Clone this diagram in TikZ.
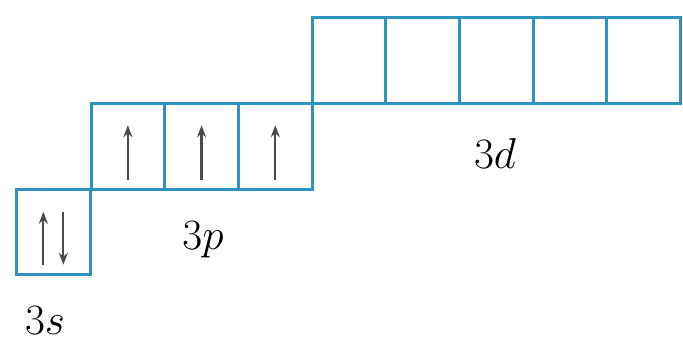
\documentclass[tikz,border=0pt]{standalone}
\usetikzlibrary{arrows.meta}
\definecolor{boxblue}{RGB}{45,148,190}
\definecolor{arrgrey}{RGB}{75,75,75}
\newcommand{\biglbl}[1]{\scalebox{1.74}{\Huge $#1$}}
\tikzset{
  cell/.style={draw=boxblue, line width=3pt, minimum width=73.7pt, minimum height=85.5pt, inner sep=0pt, anchor=north west},
  spin/.style={draw=arrgrey, line width=2.2pt, -{Stealth[length=12pt,width=9pt]}},
  lbl/.style={inner sep=0pt}
}
\begin{document}
\begin{tikzpicture}[x=1pt, y=-1pt]
\useasboundingbox (0,0) rectangle (683,345);
% 3s
\node[cell] (s1) at (15,187.5) {};
% 3p
\node[cell] (p1) at (89.5,102) {};
\node[cell] (p2) at (163.2,102) {};
\node[cell] (p3) at (236.9,102) {};
% 3d
\node[cell] (d1) at (310.6,16.5) {};
\node[cell] (d2) at (384.3,16.5) {};
\node[cell] (d3) at (458.0,16.5) {};
\node[cell] (d4) at (531.7,16.5) {};
\node[cell] (d5) at (605.4,16.5) {};
% spins
\draw[spin] ([xshift=-10pt,yshift=-33pt]s1.center) -- ([xshift=-10pt,yshift=20pt]s1.center);
\draw[spin] ([xshift=10pt,yshift=20pt]s1.center) -- ([xshift=10pt,yshift=-33pt]s1.center);
\foreach \c in {p1,p2,p3}{
  \draw[spin] ([yshift=-34pt]\c.center) -- ([yshift=21pt]\c.center);
}
% labels
\node[lbl] (l3s) at (45,321) {\biglbl{3s}};
\node[lbl] (l3p) at (203,240) {\biglbl{3p}};
\node[lbl] (l3d) at (495,153) {\biglbl{3d}};
\end{tikzpicture}
\end{document}
